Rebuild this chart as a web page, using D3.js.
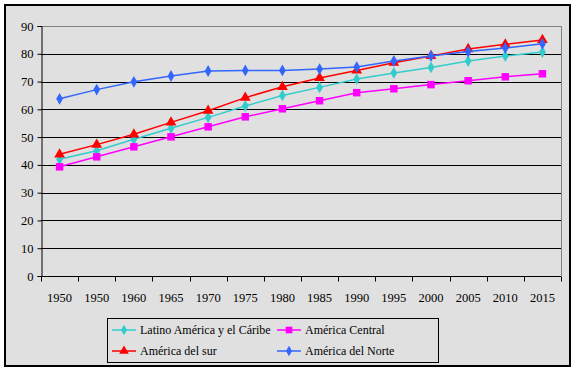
<!DOCTYPE html>
<html>
<head>
<meta charset="utf-8">
<script src="https://cdn.jsdelivr.net/npm/d3@7"></script>
<style>
  body { margin: 0; background: #fff; }
</style>
</head>
<body>
<svg id="drawspace" width="576" height="371"></svg>
<script>
let years = ["1950","1950","1960","1965","1970","1975","1980","1985","1990","1995","2000","2005","2010","2015"];
let yTicks = [0,10,20,30,40,50,60,70,80,90];
let latino = [42,45.1,49.2,53.2,57.1,61.2,65,67.9,70.9,73.1,75.1,77.4,79.2,80.6];
let central = [39.3,42.9,46.5,50.1,53.7,57.3,60.2,63.1,66,67.4,68.9,70.3,71.7,72.8];
let sur = [43.8,47.3,51,55.3,59.5,64.2,68.1,71.3,74,76.8,79.2,81.7,83.4,85];
let norte = [63.8,67.1,69.9,72,73.8,74,74,74.5,75.2,77.4,79.2,80.8,82.1,83.6];

let series = [
  {name:"Latino América y el Cáribe", values:latino, color:"#33cccc", shape:"diamond"},
  {name:"América Central", values:central, color:"#ff00ff", shape:"square"},
  {name:"América del sur", values:sur, color:"#ff0000", shape:"triangle"},
  {name:"América del Norte", values:norte, color:"#3366ff", shape:"diamond"}
];
let fontFam = "Times New Roman, Liberation Serif, serif";

let svg = d3.select("#drawspace");
svg.append("rect").attr("x",5).attr("y",5).attr("width",565).attr("height",361)
  .attr("fill","#e0e0e0").attr("stroke","#000").attr("stroke-width",2);

let pLeft=41, pRight=561, pTop=26, pBottom=276;
let xscale = d3.scaleBand().domain(d3.range(years.length)).range([pLeft,pRight]);
let yscale = d3.scaleLinear().domain([0,90]).range([pBottom,pTop]);

// gridlines
svg.append("g").selectAll("line").data(yTicks.filter(t=>t>0 && t<90)).enter().append("line")
  .attr("x1",pLeft).attr("x2",pRight)
  .attr("y1",d=>Math.round(yscale(d))+0.5).attr("y2",d=>Math.round(yscale(d))+0.5)
  .attr("stroke","#000");
// plot border top/right
svg.append("path")
  .attr("d","M"+pLeft+","+(yscale(90)+0.5)+"H"+(pRight+0.5)+"V"+pBottom)
  .attr("fill","none").attr("stroke","#808080");

// axes
let yAxis = svg.append("g").attr("transform","translate("+(pLeft+0.5)+",0)")
  .call(d3.axisLeft(yscale).tickValues(yTicks).tickSize(4).tickPadding(4));
let xAxis = svg.append("g").attr("transform","translate(0,"+(pBottom+0.5)+")")
  .call(d3.axisBottom(xscale).tickFormat(i=>years[i]).tickSize(0).tickPadding(17));
[yAxis,xAxis].forEach(a=>{
  a.attr("font-family",fontFam).attr("font-size",12.5);
  a.select(".domain").attr("stroke","#000");
  a.selectAll("line").attr("stroke","#000");
  a.selectAll("text").attr("fill","#000");
});
xAxis.select(".domain").attr("d","M"+pLeft+",0H"+pRight);
// category boundary ticks
xAxis.append("g").selectAll("line").data(d3.range(years.length+1)).enter().append("line")
  .attr("x1",i=>Math.round(pLeft+i*xscale.step())+0.5).attr("x2",i=>Math.round(pLeft+i*xscale.step())+0.5)
  .attr("y1",0).attr("y2",5).attr("stroke","#000");

let cx = i=>xscale(i)+xscale.bandwidth()/2;
let symbols = {diamond:d3.symbolDiamond, square:d3.symbolSquare, triangle:d3.symbolTriangle};
let sizes = {diamond:40, square:56, triangle:50};

series.forEach(s=>{
  let line = d3.line().x((d,i)=>cx(i)).y(d=>yscale(d));
  svg.append("path").datum(s.values).attr("d",line)
    .attr("fill","none").attr("stroke",s.color).attr("stroke-width",1.5);
  svg.append("g").selectAll("path").data(s.values).enter().append("path")
    .attr("transform",(d,i)=>"translate("+cx(i)+","+yscale(d)+")")
    .attr("d",d3.symbol().type(symbols[s.shape]).size(sizes[s.shape]))
    .attr("fill",s.color);
});

// legend
let lg = svg.append("g").attr("font-family",fontFam).attr("font-size",12);
lg.append("rect").attr("x",107.5).attr("y",318.5).attr("width",331).attr("height",44)
  .attr("fill","none").attr("stroke","#000");
series.forEach((s,k)=>{
  let lx = k%2==0 ? 112 : 277;
  let ly = k<2 ? 330 : 351;
  let g = lg.append("g").attr("transform","translate("+lx+","+ly+")");
  g.append("line").attr("x1",0).attr("x2",24).attr("y1",0).attr("y2",0)
    .attr("stroke",s.color).attr("stroke-width",1.5);
  g.append("path").attr("transform","translate(12,0)")
    .attr("d",d3.symbol().type(symbols[s.shape]).size(sizes[s.shape]*0.8))
    .attr("fill",s.color);
  g.append("text").attr("x",28).attr("y",4).attr("fill","#000").text(s.name);
});
</script>
</body>
</html>
